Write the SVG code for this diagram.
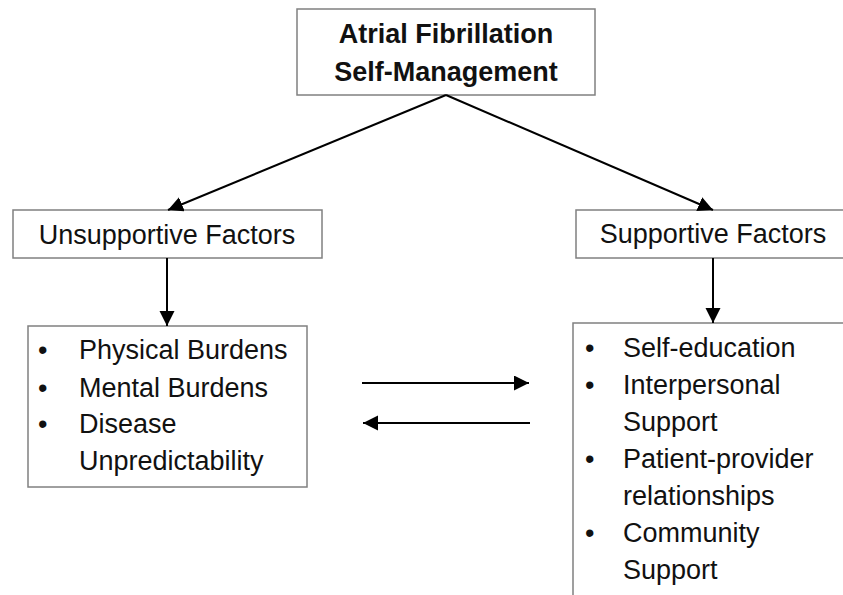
<svg xmlns="http://www.w3.org/2000/svg" width="843" height="595" viewBox="0 0 843 595">
  <style>
    .box { fill: #ffffff; stroke: #808080; stroke-width: 1.5; }
    .t { font-family: "Liberation Sans", Arial, sans-serif; font-size: 27px; fill: #111111; }
    .title { font-weight: bold; }
    .mid { text-anchor: middle; }
    .conn { stroke: #000000; stroke-width: 2; fill: none; marker-end: url(#arrow); }
  </style>
  <defs>
    <marker id="arrow" markerUnits="userSpaceOnUse" markerWidth="16" markerHeight="16" refX="15" refY="7.5" orient="auto">
      <path d="M0,0 L15,7.5 L0,15 Z" fill="#000000"/>
    </marker>
  </defs>
  <rect width="843" height="595" fill="#ffffff"/>

  <g id="node-root">
    <rect class="box" x="297" y="9" width="298" height="86"/>
    <text class="t title mid" x="446" y="43">Atrial Fibrillation</text>
    <text class="t title mid" x="446" y="81">Self-Management</text>
  </g>

  <g id="node-unsupportive">
    <rect class="box" x="13" y="210" width="309" height="48"/>
    <text class="t mid" x="167" y="244">Unsupportive Factors</text>
  </g>

  <g id="node-supportive">
    <rect class="box" x="576" y="210" width="280" height="48"/>
    <text class="t mid" x="713" y="243">Supportive Factors</text>
  </g>

  <g id="node-unsupportive-list">
    <rect class="box" x="28" y="326" width="279" height="161"/>
    <text class="t" x="38" y="359">•</text>
    <text class="t" x="79" y="359">Physical Burdens</text>
    <text class="t" x="38" y="397">•</text>
    <text class="t" x="79" y="397">Mental Burdens</text>
    <text class="t" x="38" y="433">•</text>
    <text class="t" x="79" y="433">Disease</text>
    <text class="t" x="79" y="470">Unpredictability</text>
  </g>

  <g id="node-supportive-list">
    <rect class="box" x="573" y="323" width="290" height="290"/>
    <text class="t" x="585" y="357">•</text>
    <text class="t" x="623" y="357">Self-education</text>
    <text class="t" x="585" y="394">•</text>
    <text class="t" x="623" y="394">Interpersonal</text>
    <text class="t" x="623" y="431">Support</text>
    <text class="t" x="585" y="468">•</text>
    <text class="t" x="623" y="468">Patient-provider</text>
    <text class="t" x="623" y="505">relationships</text>
    <text class="t" x="585" y="542">•</text>
    <text class="t" x="623" y="542">Community</text>
    <text class="t" x="623" y="579">Support</text>
  </g>

  <g id="connectors">
    <line class="conn" x1="446" y1="95" x2="168" y2="210"/>
    <line class="conn" x1="446" y1="95" x2="713" y2="210"/>
    <line class="conn" x1="167" y1="258" x2="167" y2="326"/>
    <line class="conn" x1="713" y1="258" x2="713" y2="323"/>
    <line class="conn" x1="362" y1="383" x2="529" y2="383"/>
    <line class="conn" x1="530" y1="423" x2="363" y2="423"/>
  </g>
</svg>
